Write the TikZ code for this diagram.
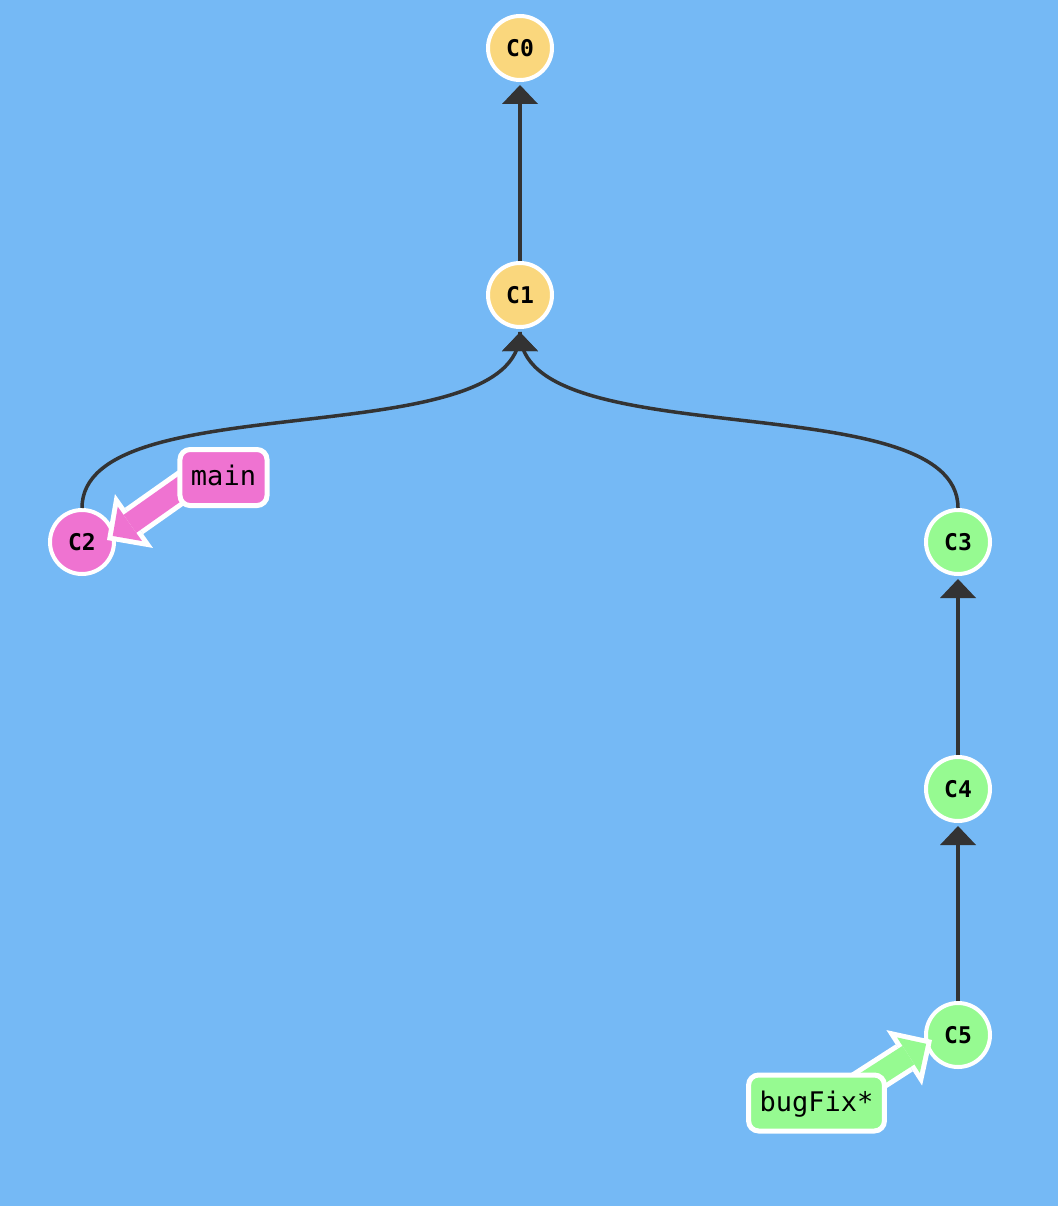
\documentclass[tikz,border=0pt]{standalone}
\usepackage{fontspec}
\setmonofont{DejaVu Sans Mono}
\usetikzlibrary{arrows.meta,decorations.markings}

\definecolor{bgblue}{RGB}{117,185,245}
\definecolor{cyellow}{RGB}{250,215,125}
\definecolor{cpink}{RGB}{239,115,209}
\definecolor{cgreen}{RGB}{150,250,145}
\definecolor{dark}{RGB}{51,51,51}

\pgfdeclarelayer{front}
\pgfsetlayers{main,front}

\tikzset{
  commit/.style={circle, draw=white, line width=4pt, minimum size=64pt, inner sep=0pt,
    font=\fontsize{23}{23}\selectfont\ttfamily\bfseries, text height=16.5pt, text depth=0pt},
  branch/.style={draw=white, line width=5pt, rounded corners=10pt, minimum height=56pt,
    inner xsep=11pt, font=\fontsize{27}{27}\selectfont\ttfamily, text height=20pt, text depth=4pt},
  parent/.style={draw=dark, line width=3.5pt, shorten >=3pt,
    -{Triangle[width=36pt,length=19pt,line width=0pt]}},
  merge/.style={draw=dark, line width=3.5pt, postaction={decorate},
    decoration={markings, mark=at position 0.9995 with {\arrow[color=dark]{Triangle[width=36pt,length=19pt,line width=0pt]}}}},
  ptrout/.style={draw=white, line width=32pt,
    -{Triangle[width=66pt,length=33pt,line width=0pt]}},
  ptrin/.style={draw=#1, line width=22pt, shorten >=7pt,
    -{Triangle[width=42pt,length=21pt,line width=0pt]}},
}

\begin{document}
\begin{tikzpicture}[x=1pt,y=-1pt]

        \useasboundingbox (0,0) rectangle (1058,1206);
        \fill[bgblue] (0,0) rectangle (1058,1206);

        % commits
        \node[commit, fill=cyellow] (C0) at (520,48)   {C0};
        \node[commit, fill=cyellow] (C1) at (520,295)  {C1};
        \node[commit, fill=cpink]   (C2) at (82,542)   {C2};
        \node[commit, fill=cgreen]  (C3) at (958,542)  {C3};
        \node[commit, fill=cgreen]  (C4) at (958,789)  {C4};
        \node[commit, fill=cgreen]  (C5) at (958,1035) {C5};

        % branch labels
        \begin{pgfonlayer}{front}
          \node[branch, fill=cpink]  (main)   at (223.5,477.5) {main};
          \node[branch, fill=cgreen] (bugFix) at (816.5,1103)  {bugFix*};
        \end{pgfonlayer}

        % parent links
        \draw[parent] (C1) -- (C0);
        \draw[merge] (C2.north) .. controls +(0,-125) and +(0,125) .. ([yshift=-3pt]C1.south);
        \draw[merge] (C3.north) .. controls +(0,-125) and +(0,125) .. ([yshift=-3pt]C1.south);
        \draw[parent] (C4) -- (C3);
        \draw[parent] (C5) -- (C4);

        % branch pointers
        \draw[ptrout] ([xshift=-9.5pt,yshift=13pt]main.center) -- ([xshift=25pt,yshift=2pt]C2.center);
        \draw[ptrin=cpink] ([xshift=-9.5pt,yshift=13pt]main.center) -- ([xshift=25pt,yshift=2pt]C2.center);
        \draw[ptrout] ([xshift=5pt,yshift=-8pt]bugFix.center) -- ([xshift=-26pt,yshift=-5pt]C5.center);
        \draw[ptrin=cgreen] ([xshift=5pt,yshift=-8pt]bugFix.center) -- ([xshift=-26pt,yshift=-5pt]C5.center);

\end{tikzpicture}
\end{document}
